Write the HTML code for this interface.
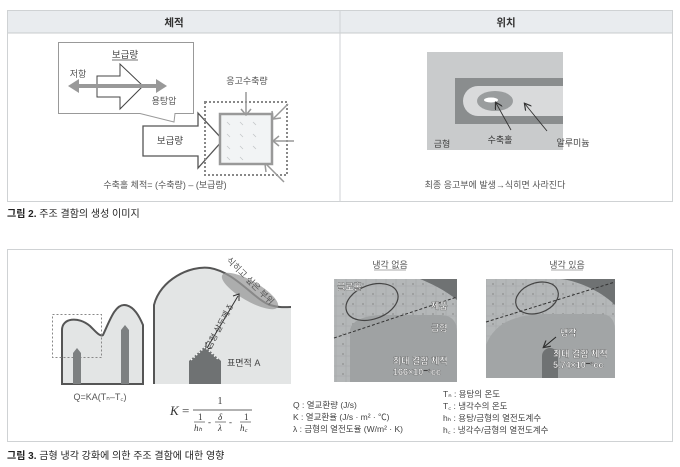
<!DOCTYPE html>
<html><head><meta charset="utf-8"><style>
html,body{margin:0;padding:0;background:#fff;}
svg{display:block;font-family:"Liberation Sans","Noto Sans CJK KR",sans-serif;}
</style></head><body>
<svg width="680" height="467" viewBox="0 0 680 467" xmlns="http://www.w3.org/2000/svg">
<defs>
<pattern id="dots" width="10" height="10" patternUnits="userSpaceOnUse"><rect width="10" height="10" fill="#b4b7b8"/><circle cx="3" cy="4" r="0.6" fill="#666"/><path d="M0 6 H10 M6 0 V10" stroke="#a3a6a7" stroke-width="0.6"/></pattern>
<marker id="ah" markerWidth="8" markerHeight="8" refX="6" refY="4" orient="auto" markerUnits="userSpaceOnUse"><path d="M0,0 L7,4 L0,8" fill="none" stroke="#333" stroke-width="1.2"/></marker>
</defs>
<!-- top panel -->
<rect x="7.5" y="10.5" width="665" height="191" fill="#fff" stroke="#cfd2d4"/>
<rect x="8" y="11" width="664" height="22" fill="#e9ecef"/>
<line x1="8" y1="33" x2="672" y2="33" stroke="#c8cbcd"/>
<line x1="340" y1="11" x2="340" y2="201" stroke="#cfd2d4"/>
<text x="174" y="26" font-size="10.5" font-weight="bold" text-anchor="middle" fill="#333">체적</text>
<text x="506" y="26" font-size="10.5" font-weight="bold" text-anchor="middle" fill="#333">위치</text>
<!-- callout -->
<path d="M58.5 42.5 H193.5 V113.5 H175 L174 122 L140 113.5 H58.5 Z" fill="#fff" stroke="#999"/>
<text x="125" y="58" font-size="9.5" text-anchor="middle" fill="#444">보급량</text>
<line x1="112" y1="60" x2="138" y2="60" stroke="#444" stroke-width="0.7"/>
<path d="M97 76 H120 V64 L143 86 L120 109 V97 H97 Z" fill="#fff" stroke="#444" stroke-width="1"/>
<line x1="76" y1="86" x2="158" y2="86" stroke="#999" stroke-width="4"/>
<path d="M68 86 L79 79 L79 93 Z" fill="#999"/>
<path d="M167 86 L156 79 L156 93 Z" fill="#999"/>
<text x="78" y="77" font-size="9" text-anchor="middle" fill="#555">저항</text>
<text x="164" y="104" font-size="9" text-anchor="middle" fill="#555">용탕압</text>
<text x="247" y="84" font-size="9" text-anchor="middle" fill="#555">응고수축량</text>
<!-- big arrow -->
<path d="M143 126 H198 V113 L223 140 L198 168 V156 H143 Z" fill="#fff" stroke="#555" stroke-width="1.3"/>
<text x="170" y="144" font-size="9.5" text-anchor="middle" fill="#444">보급량</text>
<rect x="205" y="102" width="82" height="73" fill="none" stroke="#888" stroke-width="2" stroke-dasharray="2,2"/>
<rect x="220" y="114" width="52" height="50" fill="#f2f4f5" stroke="#999" stroke-width="2.5"/>
<g stroke="#c5c8ca" stroke-width="0.8">
<path d="M227 122l3 3M240 122l3 3M253 122l3 3M227 134l3 3M240 134l3 3M253 134l3 3M227 146l3 3M240 146l3 3M253 146l3 3M227 157l3 3M240 157l3 3"/>
</g>
<g stroke="#999" stroke-width="1.5" fill="none">
<path d="M246 92 V114"/><path d="M241 109 L246 115 L251 109"/>
<path d="M288 104 L274 118"/><path d="M272 111 L273 119 L281 118"/>
<path d="M294 141 H273"/><path d="M279 136 L273 141 L279 146"/>
<path d="M284 182 L266 164"/><path d="M266 172 L265 164 L273 164"/>
</g>
<text x="165" y="188" font-size="9" text-anchor="middle" fill="#555">수축홀 체적= (수축량) – (보급량)</text>
<!-- right top image -->
<rect x="427" y="52" width="136" height="98" fill="#c9cbcc"/>
<rect x="455" y="78" width="108" height="46" fill="#8a8d8e"/>
<path d="M563 86 H478 A15 15 0 0 0 478 116 H563 Z" fill="#d9dadb"/>
<ellipse cx="495" cy="101" rx="18" ry="10" fill="#9a9d9e"/>
<ellipse cx="491" cy="100" rx="7" ry="2.5" fill="#fff"/>
<line x1="511" y1="130" x2="496" y2="103" stroke="#333" stroke-width="0.9" marker-end="url(#ah)"/>
<line x1="547" y1="131" x2="525" y2="104" stroke="#333" stroke-width="0.9" marker-end="url(#ah)"/>
<text x="442" y="147" font-size="9" text-anchor="middle" fill="#444">금형</text>
<text x="500" y="143" font-size="9" text-anchor="middle" fill="#333">수축홀</text>
<text x="573" y="146" font-size="9" text-anchor="middle" fill="#444">알루미늄</text>
<text x="495" y="188" font-size="9" text-anchor="middle" fill="#555">최종 응고부에 발생→식히면 사라진다</text>
<text x="7" y="217" font-size="10" fill="#222"><tspan font-weight="bold">그림 2.</tspan> 주조 결함의 생성 이미지</text>
<!-- bottom panel -->
<rect x="7.5" y="249.5" width="665" height="192" fill="#fff" stroke="#cfd2d4"/>
<!-- small mold -->
<path d="M62 384 V330 C62 318 78 316 90 326 C96 332 100 337 103 335 C110 320 115 305 124 305 C134 305 140 318 143 325 V384 Z" fill="#e3e5e5" stroke="#555" stroke-width="2"/>
<rect x="52.5" y="314.5" width="49" height="43" fill="none" stroke="#888" stroke-dasharray="2,2"/>
<path d="M73 384 V353 L77 348 L81 353 V384 Z" fill="#7d8081"/>
<path d="M121 384 V330 L125 325 L129 330 V384 Z" fill="#7d8081"/>
<text x="100" y="400" font-size="9" text-anchor="middle" fill="#555">Q=KA(Tₙ–T꜀)</text>
<!-- big shape -->
<path d="M154 384 V305 C160 280 190 265 210 268 C235 272 255 300 270 305 C280 308 285 307 291 307 V384 Z" fill="#e3e5e5"/>
<path d="M154 384 V305 C160 280 190 265 210 268 C235 272 255 300 270 305 C280 308 285 307 291 307" fill="none" stroke="#555" stroke-width="2"/>
<ellipse cx="250" cy="291" rx="32" ry="10" transform="rotate(30 250 291)" fill="#999" opacity="0.75"/>
<text x="248" y="283" font-size="9" fill="#555" transform="rotate(45 248 283)" text-anchor="middle">식히고 싶은 부위</text>
<line x1="238" y1="296" x2="207" y2="348" stroke="#333" stroke-width="1"/>
<path d="M233 296 L239 294 L239 301" fill="none" stroke="#333"/>
<path d="M206 342 L206 349 L212 348" fill="none" stroke="#333"/>
<text x="222" y="328" font-size="8.5" fill="#444" transform="rotate(-62 222 328)" text-anchor="middle">금형 살두께 δ</text>
<path d="M189 384 V361 L205 346 L221 361 V384 Z" fill="#6f7273"/>
<path d="M191 360 L205 347 L219 360" fill="none" stroke="#fff" stroke-width="1.5" stroke-dasharray="1.5,2"/>
<text x="227" y="366" font-size="9" fill="#444">표면적 A</text>
<!-- K formula -->
<g font-family="'Liberation Serif',serif" fill="#333">
<text x="170" y="415" font-size="13" font-style="italic">K</text>
<text x="182" y="415" font-size="13">=</text>
<text x="220" y="404" font-size="10" text-anchor="middle">1</text>
<line x1="193" y1="410" x2="252" y2="410" stroke="#333" stroke-width="0.8"/>
<text x="198" y="420" font-size="9">1</text>
<line x1="194" y1="422" x2="205" y2="422" stroke="#333" stroke-width="0.6"/>
<text x="194" y="431" font-size="9" font-style="italic">hₕ</text>
<text x="208" y="425" font-size="9">-</text>
<text x="218" y="420" font-size="9" font-style="italic">δ</text>
<line x1="215" y1="422" x2="226" y2="422" stroke="#333" stroke-width="0.6"/>
<text x="218" y="431" font-size="9" font-style="italic">λ</text>
<text x="229" y="425" font-size="9">-</text>
<text x="244" y="420" font-size="9">1</text>
<line x1="240" y1="422" x2="251" y2="422" stroke="#333" stroke-width="0.6"/>
<text x="240" y="431" font-size="9" font-style="italic">h꜀</text>
</g>
<g font-size="8.5" fill="#444">
<text x="293" y="408">Q : 열교환량 (J/s)</text>
<text x="293" y="420">K : 열교환율 (J/s · m² · ℃)</text>
<text x="293" y="432">λ : 금형의 열전도율 (W/m² · K)</text>
<text x="443" y="397">Tₙ : 용탕의 온도</text>
<text x="443" y="409">T꜀ : 냉각수의 온도</text>
<text x="443" y="421">hₕ : 용탕/금형의 열전도계수</text>
<text x="443" y="433">h꜀ : 냉각수/금형의 열전도계수</text>
</g>
<!-- photos -->
<text x="390" y="268" font-size="9" text-anchor="middle" fill="#555">냉각 없음</text>
<line x1="374" y1="270" x2="406" y2="270" stroke="#555" stroke-width="0.6"/>
<text x="567" y="268" font-size="9" text-anchor="middle" fill="#555">냉각 있음</text>
<line x1="551" y1="270" x2="583" y2="270" stroke="#555" stroke-width="0.6"/>
<rect x="334" y="279" width="123" height="103" fill="url(#dots)"/>
<path d="M420 279 H457 V300 C445 290 430 283 420 279Z" fill="#6f7273"/>
<path d="M350 382 V330 C352 320 365 316 380 315 H440 C452 315 457 322 457 332 V382 Z" fill="#9fa2a3"/>
<ellipse cx="372" cy="302" rx="27" ry="17" transform="rotate(-20 372 302)" fill="none" stroke="#444" stroke-width="1.2"/>
<line x1="334" y1="338" x2="457" y2="297" stroke="#333" stroke-dasharray="3,2"/>
<g font-size="9" fill="#fff" stroke="#444" stroke-width="0.3" font-weight="bold">
<text x="337" y="290">블로홀</text>
<text x="431" y="309">제품</text>
<text x="431" y="331">금형</text>
<text x="393" y="364">최대 결함 체적</text>
<text x="393" y="375">166×10⁻³cc</text>
</g>
<rect x="486" y="279" width="129" height="99" fill="url(#dots)"/>
<path d="M560 279 H615 V305 C600 290 575 280 560 279Z" fill="#6f7273"/>
<path d="M486 378 V345 C495 322 515 315 545 314 H600 C612 314 615 322 615 332 V378 Z" fill="#a2a5a6"/>
<path d="M542 378 V356 A8 8 0 0 1 558 356 V378 Z" fill="#6f7273"/>
<ellipse cx="537" cy="298" rx="22" ry="15" transform="rotate(-20 537 298)" fill="none" stroke="#444" stroke-width="1.2"/>
<line x1="486" y1="322" x2="615" y2="282" stroke="#333" stroke-dasharray="3,2"/>
<line x1="556" y1="337" x2="544" y2="347" stroke="#222" stroke-width="1" marker-end="url(#ah)"/>
<g font-size="9" fill="#fff" stroke="#444" stroke-width="0.3" font-weight="bold">
<text x="560" y="336">냉각</text>
<text x="553" y="357">최대 결함 체적</text>
<text x="553" y="368">5.74×10⁻³cc</text>
</g>
<text x="7" y="459" font-size="10" fill="#222"><tspan font-weight="bold">그림 3.</tspan> 금형 냉각 강화에 의한 주조 결함에 대한 영향</text>
</svg>
</body></html>
